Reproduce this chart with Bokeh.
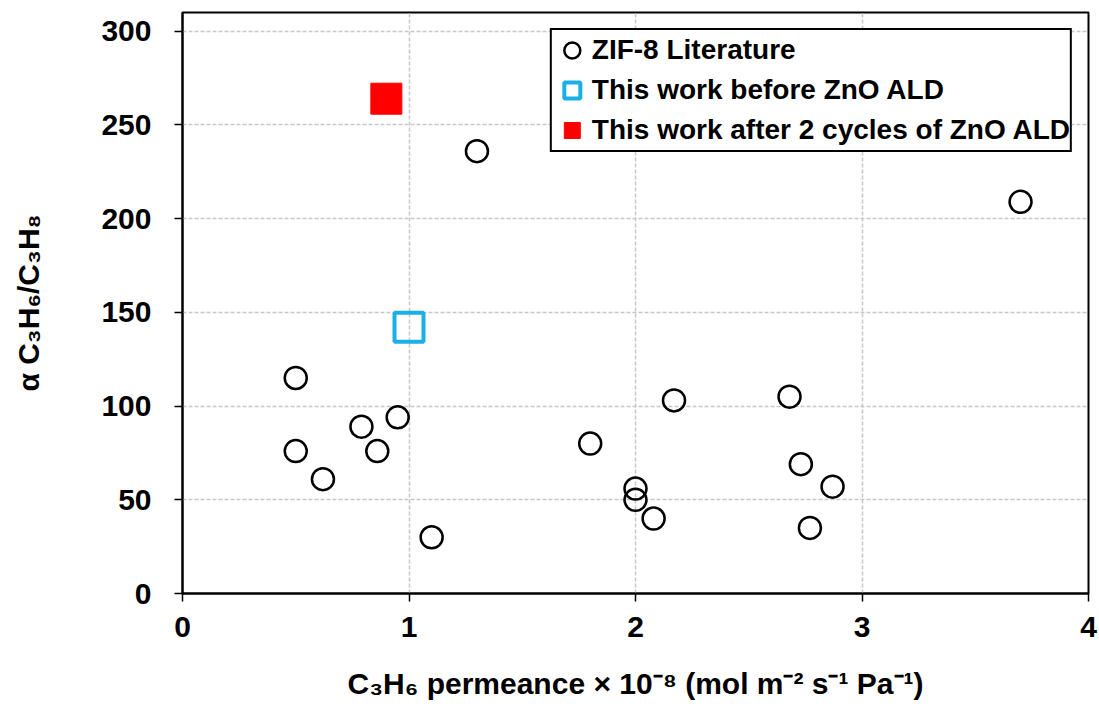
from bokeh.plotting import figure
from bokeh.models import Range1d, FixedTicker, Legend, LegendItem
from bokeh.embed import file_html
from bokeh.resources import INLINE

# ---- data ----
lit_x = [0.50, 0.50, 0.62, 0.79, 0.86, 0.95, 1.10, 1.30, 1.80, 2.00, 2.00,
         2.08, 2.17, 2.68, 2.73, 2.87, 2.77, 3.70]
lit_y = [115, 76, 61, 89, 76, 94, 30, 236, 80, 56, 50,
         40, 103, 105, 69, 57, 35, 209]
before_x = [1.00]
before_y = [142]
after_x = [0.90]
after_y = [264]
x_ticks = [0, 1, 2, 3, 4]
y_ticks = [0, 50, 100, 150, 200, 250, 300]
labels = ["ZIF-8 Literature", "This work before ZnO ALD",
          "This work after 2 cycles of ZnO ALD"]

FONT = "Liberation Sans"

p = figure(width=1099, height=710, x_range=Range1d(0, 4), y_range=Range1d(0, 310),
           output_backend="svg", toolbar_location=None,
           min_border_left=182, min_border_right=11, min_border_top=12,
           min_border_bottom=117)
p.background_fill_color = "white"
p.border_fill_color = "white"
p.outline_line_color = "black"
p.outline_line_width = 2
p.outline_line_alpha = 1

r_lit = p.scatter(lit_x, lit_y, marker="circle", size=22, fill_color=None,
                  line_color="black", line_width=2.5)
r_before = p.scatter(before_x, before_y, marker="square", size=29, fill_color=None,
                     line_color="#1AAFE6", line_width=4)
r_after = p.scatter(after_x, after_y, marker="square", size=31, fill_color="#FF0000",
                    line_color="#FF0000", line_width=1)

for ax, ticks in ((p.xaxis[0], x_ticks), (p.yaxis[0], y_ticks)):
    ax.ticker = FixedTicker(ticks=ticks)
    ax.minor_tick_line_color = None
    ax.major_tick_in = 0
    ax.major_tick_out = 8
    ax.major_tick_line_color = "black"
    ax.major_tick_line_width = 1.5
    ax.axis_line_color = "black"
    ax.axis_line_width = 2
    ax.major_label_text_font = FONT
    ax.major_label_text_font_style = "bold"
    ax.major_label_text_font_size = "30px"
    ax.major_label_text_color = "black"
    ax.axis_label_text_font = FONT
    ax.axis_label_text_font_style = "bold"
    ax.axis_label_text_font_size = "30px"
    ax.axis_label_text_color = "black"

p.xaxis.axis_label = "C\u2083H\u2086 permeance \u00d7 10\u207b\u2078 (mol m\u207b\u00b2 s\u207b\u00b9 Pa\u207b\u00b9)"
p.yaxis.axis_label = "\u03b1 C\u2083H\u2086/C\u2083H\u2088"
p.xaxis.major_label_standoff = 15
p.yaxis.major_label_standoff = 23
p.xaxis.axis_label_standoff = 27
p.yaxis.axis_label_standoff = 53

for g in (p.xgrid[0], p.ygrid[0]):
    g.grid_line_color = "#c8c8c8"
    g.grid_line_width = 1.5
    g.grid_line_dash = "4 2"
p.xgrid.ticker = FixedTicker(ticks=x_ticks)
p.ygrid.ticker = FixedTicker(ticks=y_ticks)

legend = Legend(items=[LegendItem(label=labels[0], renderers=[r_lit]),
                       LegendItem(label=labels[1], renderers=[r_before]),
                       LegendItem(label=labels[2], renderers=[r_after])],
                location="top_right")
legend.margin = 16
legend.padding = 0
legend.spacing = 0
legend.glyph_width = 40
legend.glyph_height = 40
legend.label_standoff = 0
legend.label_text_font = FONT
legend.label_text_font_style = "bold"
legend.label_text_font_size = "28px"
legend.label_text_color = "black"
legend.border_line_color = "black"
legend.border_line_alpha = 1
legend.border_line_width = 2
legend.background_fill_color = "white"
legend.background_fill_alpha = 1
p.add_layout(legend)

open("out.html", "w").write(file_html(p, INLINE))
